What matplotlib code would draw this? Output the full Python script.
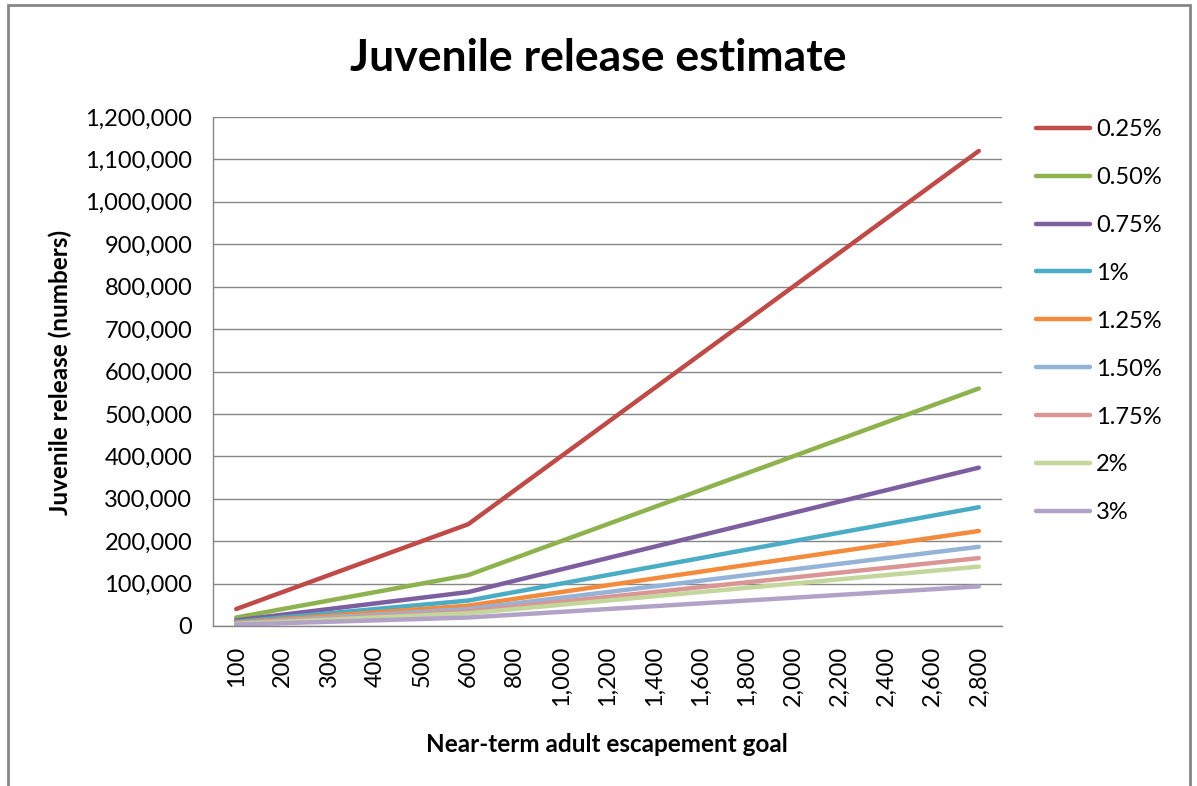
import matplotlib.pyplot as plt
from matplotlib.patches import Rectangle

plt.rcParams['font.family'] = ['Lato', 'DejaVu Sans']

goals = ['100', '200', '300', '400', '500', '600', '800', '1,000', '1,200', '1,400',
         '1,600', '1,800', '2,000', '2,200', '2,400', '2,600', '2,800']

r025 = [40000, 80000, 120000, 160000, 200000, 240000, 320000, 400000, 480000, 560000,
        640000, 720000, 800000, 880000, 960000, 1040000, 1120000]
r050 = [20000, 40000, 60000, 80000, 100000, 120000, 160000, 200000, 240000, 280000,
        320000, 360000, 400000, 440000, 480000, 520000, 560000]
r075 = [13333, 26667, 40000, 53333, 66667, 80000, 106667, 133333, 160000, 186667,
        213333, 240000, 266667, 293333, 320000, 346667, 373333]
r100 = [10000, 20000, 30000, 40000, 50000, 60000, 80000, 100000, 120000, 140000,
        160000, 180000, 200000, 220000, 240000, 260000, 280000]
r125 = [8000, 16000, 24000, 32000, 40000, 48000, 64000, 80000, 96000, 112000,
        128000, 144000, 160000, 176000, 192000, 208000, 224000]
r150 = [6667, 13333, 20000, 26667, 33333, 40000, 53333, 66667, 80000, 93333,
        106667, 120000, 133333, 146667, 160000, 173333, 186667]
r175 = [5714, 11429, 17143, 22857, 28571, 34286, 45714, 57143, 68571, 80000,
        91429, 102857, 114286, 125714, 137143, 148571, 160000]
r200 = [5000, 10000, 15000, 20000, 25000, 30000, 40000, 50000, 60000, 70000,
        80000, 90000, 100000, 110000, 120000, 130000, 140000]
r300 = [3333, 6667, 10000, 13333, 16667, 20000, 26667, 33333, 40000, 46667,
        53333, 60000, 66667, 73333, 80000, 86667, 93333]

series = [r025, r050, r075, r100, r125, r150, r175, r200, r300]
labels = ['0.25%', '0.50%', '0.75%', '1%', '1.25%', '1.50%', '1.75%', '2%', '3%']
colors = ['#BE4B48', '#8DB24E', '#7D5FA0', '#4AACC5', '#F38A3C',
          '#95B3D7', '#D99694', '#C3D69B', '#B3A2C7']

W, H = 1197, 786
fig = plt.figure(figsize=(W / 100, H / 100), dpi=100)
ax = fig.add_axes([213 / W, (H - 626) / H, (1002 - 213) / W, (626 - 117) / H])

x = list(range(len(goals)))
for vals, lab, c in zip(series, labels, colors):
    ax.plot(x, vals, color=c, lw=3.2, label=lab, solid_capstyle='round')

ax.set_xlim(-0.5, len(goals) - 0.5)
ax.set_ylim(0, 1200000)
ax.set_yticks(range(0, 1200001, 100000))
ax.set_yticklabels([f'{v:,}' for v in range(0, 1200001, 100000)])
ax.set_xticks(x)
ax.set_xticklabels(goals, rotation=90)
ax.tick_params(axis='both', length=0, labelsize=17, colors='black')
ax.tick_params(axis='y', pad=15)
ax.tick_params(axis='x', pad=14)
ax.grid(axis='y', color='#868686', lw=1)
ax.set_axisbelow(True)
for s in ['top', 'right']:
    ax.spines[s].set_visible(False)
for s in ['left', 'bottom']:
    ax.spines[s].set_color('#868686')
    ax.spines[s].set_linewidth(1)

fig.text(598 / W, 1 - 58 / H, 'Juvenile release estimate', ha='center', va='center',
         fontsize=32, fontweight='bold')
fig.text(607 / W, 1 - 745 / H, 'Near-term adult escapement goal', ha='center', va='center',
         fontsize=17.5, fontweight='bold')
fig.text(60 / W, 1 - 372 / H, 'Juvenile release (numbers)', ha='center', va='center',
         fontsize=17.5, fontweight='bold', rotation=90)

ax.legend(loc='upper left', bbox_to_anchor=(1036 / W, 1 - 119 / H),
          bbox_transform=fig.transFigure, frameon=False, fontsize=17,
          handlelength=2.3, handletextpad=0.25, labelspacing=1.14, borderpad=0,
          borderaxespad=0)

fig.patches.append(Rectangle((8 / W, -0.05), (1190 - 8) / W, 1.05 - 5 / H,
                             transform=fig.transFigure, fill=False,
                             edgecolor='#868686', lw=2))

fig.savefig('out.png', dpi=100)
